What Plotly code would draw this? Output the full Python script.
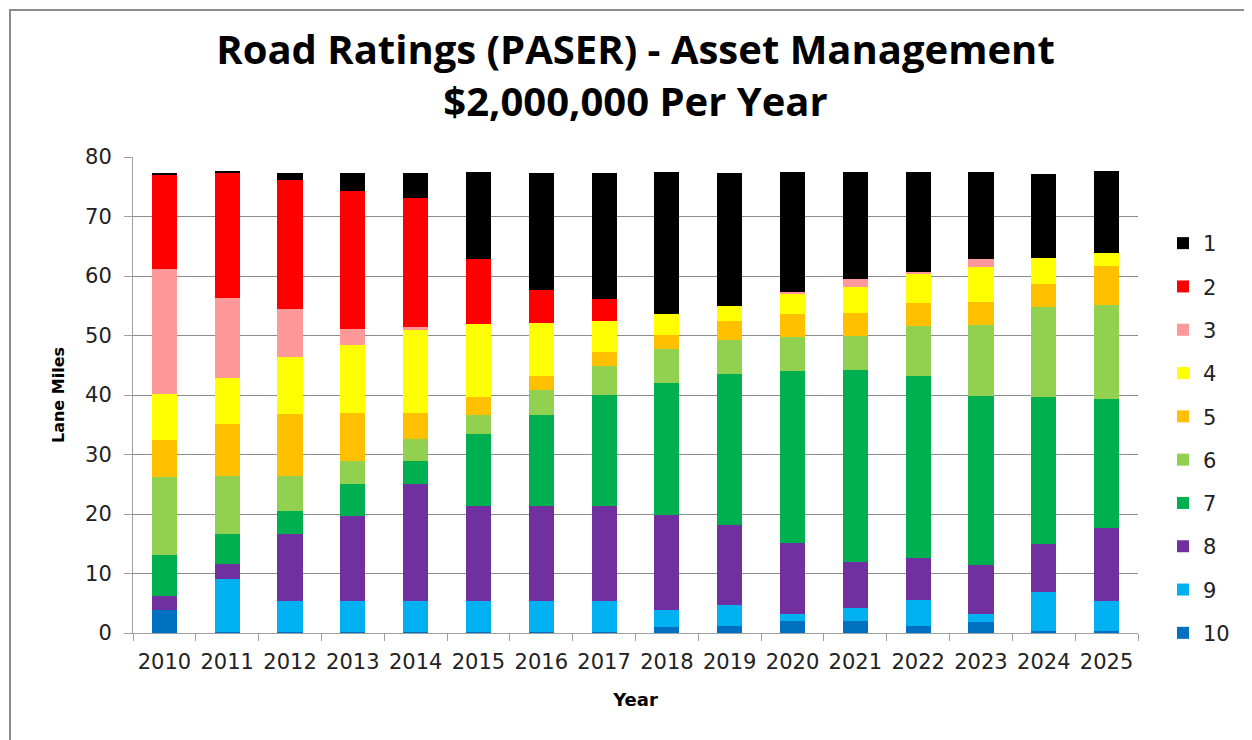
import plotly.graph_objects as go

years = [str(y) for y in range(2010, 2026)]

r1 = [0.22, 0.22, 1.18, 3.1, 4.2, 14.6, 19.6, 21.3, 23.9, 22.5, 20.2, 18.1, 16.75, 14.6, 14.1, 13.7]
r2 = [15.9, 21.1, 21.7, 23.1, 21.7, 11.0, 5.6, 3.7, 0, 0, 0, 0, 0, 0, 0, 0]
r3 = [21.0, 13.3, 8.1, 2.7, 0.56, 0, 0, 0, 0, 0, 0.34, 1.3, 0.34, 1.35, 0, 0]
r4 = [7.7, 7.8, 9.6, 11.5, 13.9, 12.2, 9.0, 5.15, 3.5, 2.5, 3.3, 4.3, 4.9, 5.8, 4.4, 2.3]
r5 = [6.3, 8.7, 10.4, 8.1, 4.4, 3.1, 2.35, 2.35, 2.35, 3.1, 3.9, 3.9, 3.8, 3.9, 3.8, 6.5]
r6 = [13.1, 9.8, 5.8, 3.8, 3.7, 3.25, 4.2, 4.8, 5.7, 5.8, 5.8, 5.8, 8.5, 11.9, 15.2, 15.8]
r7 = [6.9, 5.0, 4.0, 5.4, 3.8, 12.0, 15.2, 18.7, 22.2, 25.4, 28.9, 32.2, 30.6, 28.5, 24.6, 21.6]
r8 = [2.35, 2.6, 11.2, 14.3, 19.7, 16.0, 16.0, 16.0, 16.0, 13.4, 11.8, 7.7, 6.95, 8.1, 8.1, 12.3]
r9 = [0, 8.8, 5.15, 5.15, 5.15, 5.15, 5.15, 5.15, 2.86, 3.5, 1.3, 2.3, 4.4, 1.35, 6.5, 5.0]
r10 = [3.87, 0.22, 0.22, 0.22, 0.22, 0.22, 0.22, 0.22, 0.95, 1.18, 1.96, 1.96, 1.18, 1.9, 0.4, 0.4]

rating_names = ["1", "2", "3", "4", "5", "6", "7", "8", "9", "10"]
rating_values = [r1, r2, r3, r4, r5, r6, r7, r8, r9, r10]
rating_colors = ["#000000", "#FF0000", "#FF9999", "#FFFF00", "#FFC000",
                 "#92D050", "#00B050", "#7030A0", "#00B0F0", "#0070C0"]

fig = go.Figure()
# bottom of stack first (rating 10) up to rating 1
for i in reversed(range(len(rating_names))):
    fig.add_trace(go.Bar(
        x=years, y=rating_values[i], name=rating_names[i],
        legendgroup=rating_names[i], legendrank=i + 1,
        marker=dict(color=rating_colors[i], line=dict(width=0)),
    ))

OFF = 8  # page body margin
W, H = 1252 - OFF, 740 - OFF
# plot area in screen pixels
SL, SR, ST, SB = 133, 1138, 157, 633
L, R, T, B = SL - OFF, SR - OFF, ST - OFF, SB - OFF

def px(sx):
    return (sx - SL) / (SR - SL)

def py(sy):
    return (SB - sy) / (SB - ST)

fig.update_layout(
    width=W, height=H,
    barmode="stack", bargap=0.6,
    paper_bgcolor="white", plot_bgcolor="white",
    margin=dict(l=L, r=W - R, t=T, b=H - B, autoexpand=False),
    font=dict(family="DejaVu Sans", size=20, color="#222222"),
    title=dict(
        text="Road Ratings (PASER) - Asset Management<br>$2,000,000 Per Year",
        x=0.5, xref="paper", xanchor="center",
        y=1 - 56 / H, yanchor="middle",
        font=dict(family="Open Sans", size=40, color="#000000", weight="bold"),
    ),
    xaxis=dict(
        title=dict(text="Year", font=dict(family="DejaVu Sans", size=18, color="#000000", weight="bold"), standoff=20),
        showgrid=False, showline=True, linecolor="#A0A0A0", linewidth=1,
        ticks="outside", tickson="boundaries", ticklen=7, tickcolor="#A0A0A0",
        tickfont=dict(size=21, color="#222222"), ticklabelstandoff=10,
    ),
    yaxis=dict(
        title=dict(text="Lane Miles", font=dict(family="DejaVu Sans", size=16, color="#000000", weight="bold"), standoff=16),
        range=[0, 80], dtick=10, showgrid=True, gridcolor="#8C8C8C", gridwidth=1,
        showline=True, linecolor="#A0A0A0", linewidth=1,
        ticks="outside", ticklen=8, tickcolor="#A0A0A0",
        tickfont=dict(size=21, color="#222222"), zeroline=False, ticklabelstandoff=8,
    ),
    legend=dict(
        x=px(1163), y=py(223), xanchor="left", yanchor="top",
        traceorder="grouped", tracegroupgap=13,
        font=dict(family="DejaVu Sans", size=21, color="#222222"),
        bgcolor="rgba(0,0,0,0)",
    ),
    shapes=[dict(
        type="rect", xref="paper", yref="paper",
        x0=px(10), x1=px(1270), y0=py(800), y1=py(10),
        line=dict(color="#8C8C8C", width=2), fillcolor="rgba(0,0,0,0)", layer="below",
    )],
)

fig.write_html("out.html")
